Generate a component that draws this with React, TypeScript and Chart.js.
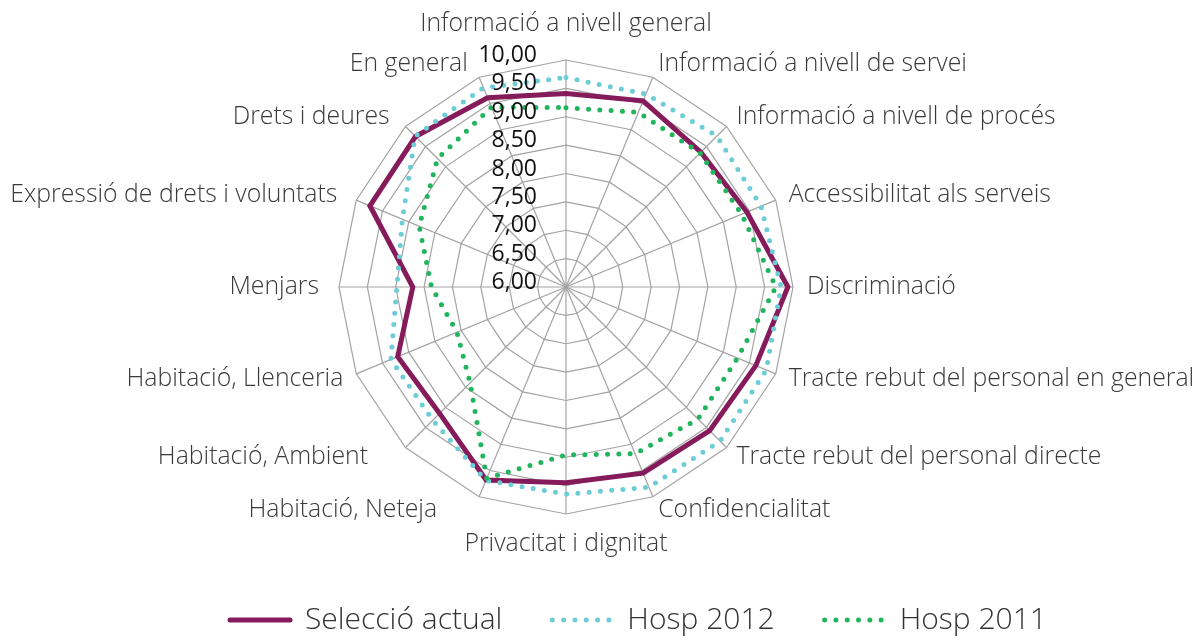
import React, { useEffect, useRef } from "react";
import { Chart, registerables } from "chart.js";

Chart.register(...registerables);

const categories: string[] = [
  "Informació a nivell general",
  "Informació a nivell de servei",
  "Informació a nivell de procés",
  "Accessibilitat als serveis",
  "Discriminació",
  "Tracte rebut del personal en general",
  "Tracte rebut del personal directe",
  "Confidencialitat",
  "Privacitat i dignitat",
  "Habitació, Neteja",
  "Habitació, Ambient",
  "Habitació, Llenceria",
  "Menjars",
  "Expressió de drets i voluntats",
  "Drets i deures",
  "En general",
];

const seleccioActual: number[] = [9.41, 9.55, 9.36, 9.45, 9.91, 9.62, 9.58, 9.55, 9.45, 9.68, 9.15, 9.21, 8.7, 9.74, 9.75, 9.61];
const hosp2012: number[] = [9.69, 9.68, 9.76, 9.72, 9.79, 9.82, 9.84, 9.82, 9.65, 9.69, 9.32, 9.34, 8.98, 9.12, 9.76, 9.8];
const hosp2011: number[] = [9.16, 9.33, 9.34, 9.35, 9.7, 9.27, 9.29, 9.18, 8.96, 9.65, 8.39, 8.08, 8.37, 8.8, 9.2, 9.43];

const tickValues: number[] = [6, 6.5, 7, 7.5, 8, 8.5, 9, 9.5, 10];
const tickLabels: string[] = ["6,00", "6,50", "7,00", "7,50", "8,00", "8,50", "9,00", "9,50", "10,00"];

const FONT = "'Open Sans', Roboto, sans-serif";
const GRID = "#a3a3a3";
const PURPLE = "#851b5a";
const TEAL = "#6ccdd7";
const GREEN = "#20b45c";

const textPlugin = {
  id: "radarTexts",
  afterDatasetsDraw(chart: any) {
    const scale = chart.scales.r;
    const ctx = chart.ctx as CanvasRenderingContext2D;
    ctx.save();
    // tick labels
    ctx.font = `500 23px ${FONT}`;
    ctx.fillStyle = "#111111";
    ctx.textAlign = "right";
    ctx.textBaseline = "alphabetic";
    tickValues.forEach((v, i) => {
      const d = scale.getDistanceFromCenterForValue(v);
      ctx.fillText(tickLabels[i], scale.xCenter - 29, scale.yCenter - d + 2);
    });
    // point labels
    ctx.font = `300 24.8px ${FONT}`;
    ctx.fillStyle = "#3a3a3a";
    const pad = 14;
    categories.forEach((label, i) => {
      const p = scale.getPointPosition(i, scale.drawingArea + pad);
      const a = scale.getIndexAngle(i);
      const s = Math.sin(a);
      const c = Math.cos(a);
      let x = p.x;
      let y = p.y;
      if (s > 0.01) {
        ctx.textAlign = "left";
      } else if (s < -0.01) {
        ctx.textAlign = "right";
        x -= (c > -0.2 ? 6 : 0) + (c < -0.5 ? 42 * (-c - 0.05) : 0);
      } else {
        ctx.textAlign = "center";
      }
      if (c > 0.99) y -= 22;
      else if (c < -0.99) y += 16;
      ctx.textBaseline = "middle";
      ctx.fillText(label, x, y);
    });
    ctx.restore();
  },
};

export default function App() {
  const ref = useRef<HTMLCanvasElement | null>(null);
  useEffect(() => {
    if (!ref.current) return;
    const chart = new Chart(ref.current, {
      type: "radar",
      data: {
        labels: categories,
        datasets: [
          {
            label: "Selecció actual",
            data: seleccioActual,
            borderColor: PURPLE,
            backgroundColor: PURPLE,
            borderWidth: 5,
            borderCapStyle: "round",
            borderJoinStyle: "miter",
            fill: false,
            pointRadius: 0,
            order: 3,
          },
          {
            label: "Hosp 2012",
            data: hosp2012,
            borderColor: TEAL,
            backgroundColor: TEAL,
            borderWidth: 5,
            borderDash: [0, 11.3],
            borderCapStyle: "round",
            fill: false,
            pointRadius: 0,
            order: 2,
          },
          {
            label: "Hosp 2011",
            data: hosp2011,
            borderColor: GREEN,
            backgroundColor: GREEN,
            borderWidth: 5,
            borderDash: [0, 11.3],
            borderCapStyle: "round",
            fill: false,
            pointRadius: 0,
            order: 1,
          },
        ],
      },
      options: {
        responsive: false,
        animation: false,
        layout: { padding: { left: 180, right: 0, top: 60, bottom: -4 } },
        scales: {
          r: {
            min: 6,
            max: 10,
            beginAtZero: false,
            ticks: { display: false, stepSize: 0.5 },
            grid: { color: GRID, lineWidth: 1.2 },
            angleLines: { color: GRID, lineWidth: 1.2 },
            pointLabels: { display: false },
          },
        },
        plugins: {
          title: {
            display: true,
            position: "right",
            text: " ",
            font: { size: 10 },
            padding: { top: 230, bottom: 0 },
          },
          legend: {
            position: "bottom",
            align: "start",
            title: { display: true, text: " ", font: { size: 10 }, padding: { top: 29, bottom: 0 } },
            labels: {
              usePointStyle: true,
              pointStyle: "line",
              pointStyleWidth: 60,
              padding: 50,
              color: "#333333",
              font: { family: FONT, size: 30, weight: "300" },
              sort: (a: any, b: any) => a.datasetIndex - b.datasetIndex,
              generateLabels: (ch: any) => {
                const items = (Chart.defaults as any).plugins.legend.labels.generateLabels(ch);
                return items.map((it: any) => {
                  const ds = ch.data.datasets[it.datasetIndex];
                  return {
                    ...it,
                    pointStyle: "line",
                    lineDash: ds.borderDash || [],
                    lineCap: "round",
                    lineWidth: 5,
                    strokeStyle: ds.borderColor,
                    fillStyle: ds.borderColor,
                  };
                });
              },
            },
          },
          tooltip: { enabled: false },
        },
      } as any,
      plugins: [textPlugin],
    });
    return () => chart.destroy();
  }, []);
  return (
    <div style={{ position: "fixed", left: 0, top: 0, width: 1194, height: 641, background: "#fff" }}>
      <canvas ref={ref} width={1194} height={641} style={{ display: "block" }} />
    </div>
  );
}
